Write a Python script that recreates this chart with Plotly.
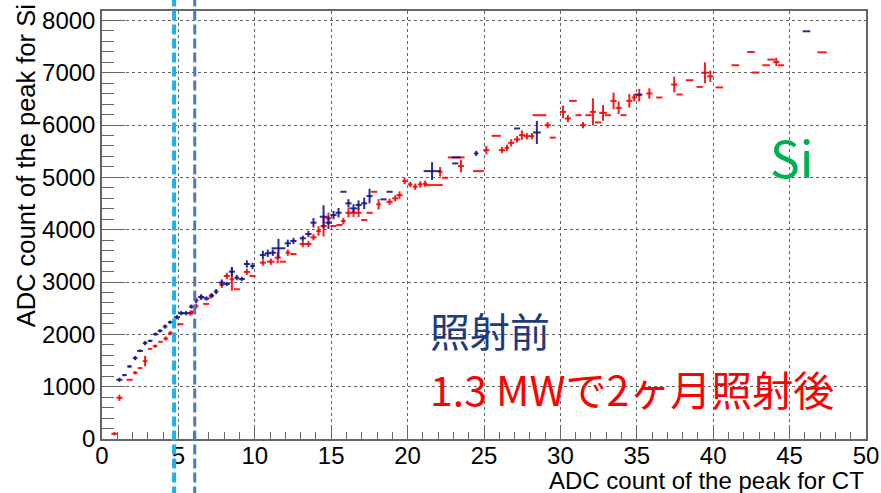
import plotly.graph_objects as go

# ---- before irradiation (blue) ----
pre_x = [1.14, 1.47, 1.8, 2.17, 2.49, 2.82, 3.15, 3.5, 3.8, 4.13, 4.46, 4.9, 5.18, 5.5,
         5.85, 6.16, 6.5, 6.84, 7.19, 7.47, 7.84, 8.17, 8.5, 8.82, 9.15, 9.48, 9.85,
         10.53, 10.85, 11.18, 11.55, 12.16, 12.53, 13.14, 13.51, 13.84, 14.5, 14.82,
         15.15, 15.48, 15.8, 16.13, 16.46, 16.79, 17.16, 17.51, 18.42, 18.82, 21.6,
         23.12, 23.18, 24.49, 27.16, 28.46, 35.12, 46.1]
pre_y = [1132, 1221, 1386, 1546, 1685, 1832, 1876, 2004, 2067, 2149, 2233, 2328, 2405, 2405,
         2531, 2650, 2715, 2685, 2741, 2817, 2989, 2964, 3199, 3084, 3059, 3345, 3307,
         3517, 3550, 3561, 3645, 3740, 3784, 3836, 3918, 4134, 4248, 4134,
         4280, 4324, 4725, 4504, 4408, 4471, 4504, 4643, 4580, 4725, 5120,
         5267, 5382, 5458, 5935, 5859, 6584, 7792]
pre_ex = [0.2, 0.15, 0.15, 0.15, 0.2, 0.15, 0.15, 0.15, 0.15, 0.15, 0.15, 0.2, 0.2, 0.25,
          0.15, 0.15, 0.2, 0.2, 0.15, 0.15, 0.2, 0.2, 0.2, 0.15, 0.2, 0.2, 0.15,
          0.2, 0.2, 0.2, 0.45, 0.2, 0.2, 0.2, 0.2, 0.2, 0.25, 0.2,
          0.2, 0.2, 0.2, 0.2, 0.25, 0.2, 0.2, 0.2, 0.2, 0.2, 0.55,
          0.2, 0.3, 0.15, 0.2, 0.25, 0.25, 0.25]
pre_ey = [40, 20, 25, 40, 25, 40, 20, 30, 30, 40, 30, 40, 40, 40,
          40, 50, 50, 40, 40, 50, 60, 40, 90, 50, 40, 70, 60,
          80, 70, 60, 180, 70, 60, 50, 60, 90, 220, 120,
          80, 90, 0, 80, 80, 90, 110, 140, 0, 0, 170,
          0, 0, 50, 0, 220, 0, 0]

# ---- after 2 months at 1.3 MW (red) ----
post_x = [0.81, 1.14, 1.8, 2.17, 2.49, 2.82, 3.15, 3.48, 3.83, 4.17, 4.48, 5.13, 5.79,
          5.88, 6.16, 6.47, 6.82, 7.14, 7.84, 8.17, 8.5, 8.82, 9.48, 9.85, 10.53, 11.05,
          11.5, 11.84, 12.16, 12.53, 13.14, 13.51, 13.84, 14.17, 14.5, 14.82, 15.15,
          15.54, 15.8, 16.13, 16.46, 16.79, 17.16, 17.51, 17.81, 18.1, 18.82, 19.19,
          19.47, 19.8, 20.17, 20.5, 20.83, 21.15, 21.7, 22.13, 22.46, 23.18, 23.49,
          24.64, 25.15, 25.8, 26.17, 26.5, 26.78, 27.16, 27.48, 27.81, 28.14, 28.63,
          29.16, 29.5, 30.17, 30.49, 30.82, 31.19, 31.48, 31.84, 32.13, 32.46, 32.79,
          33.11, 33.48, 33.81, 34.13, 34.51, 34.83, 35.16, 35.82, 36.47, 37.45, 37.8,
          38.46, 39.11, 39.46, 39.81, 40.4, 41.45, 42.47, 42.78, 43.46, 43.8, 44.13,
          44.44, 47.12]
post_y = [100, 788, 1132, 1267, 1355, 1489, 1723, 1775, 1857, 1920, 2023, 2195, 2405,
          2420, 2540, 2710, 2582, 2735, 2945, 3116, 3053, 2862, 3193, 3116, 3370, 3389,
          3466, 3389, 3561, 3536, 3727, 3727, 3855, 3975, 4071, 4218, 4071,
          4090, 4166, 4324, 4324, 4324, 4185, 4324, 4725, 4485, 4534, 4599,
          4662, 4929, 4866, 4821, 4866, 4880, 4853, 5107, 4992, 5382, 5216,
          5120, 5521, 5794, 5521, 5565, 5660, 5725, 5807, 5788, 5788, 6189,
          5998, 5760, 6252, 6126, 6462, 6189, 5998, 6189, 6252, 6050, 6233,
          6189, 6462, 6328, 6189, 6462, 6527, 6571, 6603, 6527, 6775, 6584,
          6857, 6729, 7000, 6933, 6720, 7143, 7397, 7004, 7143, 7252, 7206,
          7143, 7391]
post_ex = [0.2, 0.2, 0.2, 0.15, 0.15, 0.15, 0.15, 0.15, 0.15, 0.15, 0.15, 0.2, 0.15,
           0.15, 0.15, 0.15, 0.2, 0.15, 0.15, 0.2, 0.15, 0.2, 0.2, 0.2, 0.2, 0.25,
           0.2, 0.2, 0.15, 0.2, 0.2, 0.2, 0.2, 0.15, 0.2, 0.2, 0.2,
           0.2, 0.15, 0.2, 0.2, 0.2, 0.2, 0.2, 0.2, 0.15, 0.2, 0.2,
           0.2, 0.15, 0.15, 0.15, 0.15, 0.15, 0.6, 0.15, 0.2, 0.55, 0.2,
           0.35, 0.2, 0.3, 0.2, 0.15, 0.2, 0.2, 0.2, 0.2, 0.15, 0.45,
           0.2, 0.2, 0.2, 0.2, 0.25, 0.2, 0.2, 0.2, 0.2, 0.2, 0.25,
           0.2, 0.2, 0.2, 0.2, 0.2, 0.15, 0.15, 0.2, 0.2, 0.2, 0.2,
           0.25, 0.2, 0.25, 0.2, 0.25, 0.25, 0.25, 0.25, 0.25, 0.25, 0.2,
           0.2, 0.3]
post_ey = [30, 60, 0, 30, 0, 100, 0, 30, 0, 40, 40, 0, 50,
           40, 50, 50, 0, 50, 60, 60, 220, 0, 60, 0, 60, 60,
           110, 0, 60, 0, 60, 60, 60, 90, 200, 110, 0,
           0, 60, 90, 80, 80, 0, 0, 0, 100, 60, 60,
           70, 60, 50, 60, 60, 60, 0, 90, 0, 0, 120,
           0, 80, 0, 60, 60, 70, 60, 90, 60, 60, 0,
           60, 0, 120, 70, 0, 0, 60, 0, 260, 0, 150,
           0, 160, 120, 0, 130, 70, 120, 100, 0, 150, 0,
           0, 0, 200, 110, 0, 0, 0, 0, 0, 0, 80,
           0, 0]

# reference cuts on the CT axis
cut_x = [4.72, 6.07]
cut_colors = ["#1ab2ea", "#4a78c8"]
cut_widths = [4, 3]

BLUE = "rgba(20,20,140,0.9)"
RED = "rgba(255,0,0,0.9)"


def err_trace(x, y, ex, ey, color, name):
    return go.Scatter(
        x=x, y=y, mode="markers", name=name,
        marker=dict(size=1, color="rgba(0,0,0,0)"),
        error_x=dict(type="data", array=ex, color=color, thickness=2, width=0),
        error_y=dict(type="data", array=ey, color=color, thickness=2, width=0),
        showlegend=False, hoverinfo="x+y",
    )


fig = go.Figure()
fig.add_trace(err_trace(post_x, post_y, post_ex, post_ey, RED, "照射後"))
fig.add_trace(err_trace(pre_x, pre_y, pre_ex, pre_ey, BLUE, "照射前"))

for cx, cc, cw in zip(cut_x, cut_colors, cut_widths):
    fig.add_shape(type="line", xref="x", yref="paper", x0=cx, x1=cx, y0=-0.2, y1=1.1,
                  line=dict(color=cc, width=cw, dash="10px,4px"), layer="above")

axis_font = dict(family="Liberation Sans, Arial, sans-serif", size=24, color="black")
frame = "#666666"

fig.update_xaxes(
    range=[0, 50], dtick=5, tick0=0, ticks="inside", ticklen=13, tickcolor=frame,
    tickwidth=1, showline=True, linecolor=frame, linewidth=1.5, mirror=True,
    showgrid=True, gridcolor="rgba(60,60,60,0.8)", gridwidth=1, griddash="dot",
    zeroline=False, tickfont=axis_font, ticklabelstandoff=-6, automargin=False,
    minor=dict(ticks="inside", ticklen=7, dtick=1, tickcolor=frame, showgrid=False),
)
fig.update_yaxes(
    range=[0, 8180], dtick=1000, tick0=0, ticks="inside", ticklen=23, tickcolor=frame,
    tickwidth=1, showline=True, linecolor=frame, linewidth=1.5, mirror=True,
    showgrid=True, gridcolor="rgba(60,60,60,0.8)", gridwidth=1, griddash="dot",
    zeroline=False, tickfont=axis_font, automargin=False,
    minor=dict(ticks="inside", ticklen=12, dtick=200, tickcolor=frame, showgrid=False),
)

fig.add_annotation(text="ADC count of the peak for CT", xref="paper", yref="paper",
                   x=1.0, y=-0.098, xanchor="right", yanchor="middle",
                   showarrow=False, font=axis_font)
fig.add_annotation(text="ADC count of the peak for Si", xref="paper", yref="paper",
                   x=-0.099, y=1.02, xanchor="center", yanchor="top", textangle=-90,
                   showarrow=False, font=dict(axis_font, size=25.5))

jp = "Noto Sans CJK JP, Noto Sans, sans-serif"
fig.add_annotation(text="Si", xref="paper", yref="paper", x=0.903, y=0.662,
                   xanchor="center", yanchor="middle", showarrow=False,
                   font=dict(family=jp, size=50, color="#00b050"))
fig.add_annotation(text="照射前", xref="paper", yref="paper", x=0.427, y=0.255,
                   xanchor="left", yanchor="middle", showarrow=False,
                   font=dict(family=jp, size=40, color="#203a80"))
fig.add_annotation(text="1.3 MWで2ヶ月照射後", xref="paper", yref="paper", x=0.427, y=0.12,
                   xanchor="left", yanchor="middle", showarrow=False,
                   font=dict(family=jp, size=41, color="#ff0000"))

fig.update_layout(
    width=881, height=493,
    margin=dict(l=102, r=15, t=11, b=54, autoexpand=False),
    paper_bgcolor="white", plot_bgcolor="white",
)

fig.write_html("out.html")
